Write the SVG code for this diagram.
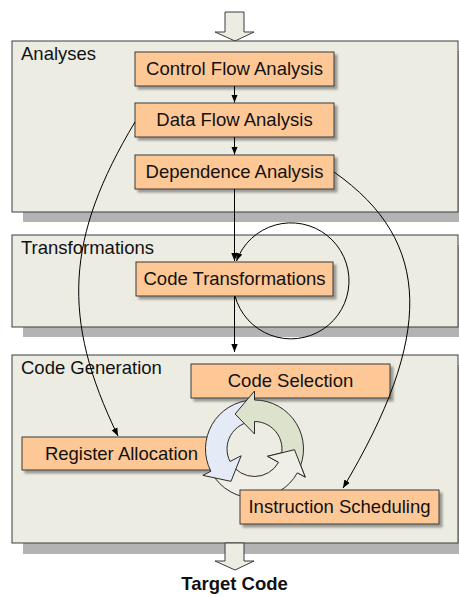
<svg xmlns="http://www.w3.org/2000/svg" width="459" height="597" viewBox="0 0 459 597">
<defs>
<style>
.panel{fill:#ececE2;stroke:#3c3c3c;stroke-width:1}
.pshadow{fill:#b3b3b3}
.box{fill:#fec896;stroke:#3a3a3a;stroke-width:1;filter:url(#sh)}
.lbl{font-family:"Liberation Sans",Arial,sans-serif;font-size:18.5px;fill:#111}
.ctr{text-anchor:middle}
.conn{fill:none;stroke:#000;stroke-width:1}
.block{fill:#ececE2;stroke:#3c3c3c;stroke-width:1}
.cyc{stroke:#2a2a2a;stroke-width:1}
</style>
<filter id="sh" x="-10%" y="-20%" width="130%" height="160%">
<feDropShadow dx="3" dy="3" stdDeviation="1.2" flood-color="#000" flood-opacity="0.35"/>
</filter>
<marker id="ah" viewBox="0 0 10 10" refX="10" refY="5" markerWidth="8" markerHeight="8" markerUnits="userSpaceOnUse" orient="auto">
<path d="M0,1 L10,5 L0,9 z" fill="#000"/>
</marker>
</defs>

<rect width="459" height="597" fill="#fff"/>

<!-- input block arrow -->
<g id="input-arrow">
<path class="block" d="M225,12 L244,12 L244,32 L254,32 L235,41 L215,32 L225,32 Z"/>
</g>

<!-- panels -->
<g id="panel-analyses">
<rect class="pshadow" x="23" y="51" width="446" height="171"/>
<rect class="panel" x="12" y="41" width="446" height="171"/>
<text class="lbl" x="21" y="59.5">Analyses</text>
</g>
<g id="panel-transformations">
<rect class="pshadow" x="23" y="245" width="446" height="92"/>
<rect class="panel" x="12" y="235" width="446" height="92"/>
<text class="lbl" x="21" y="254">Transformations</text>
</g>
<g id="panel-codegen">
<rect class="pshadow" x="23" y="365" width="446" height="189"/>
<rect class="panel" x="12" y="355" width="446" height="188"/>
<text class="lbl" x="21" y="373.5">Code Generation</text>
</g>

<!-- output block arrow -->
<g id="output-arrow">
<path class="block" d="M225,543 L244,543 L244,561 L254,561 L235,570 L215,561 L225,561 Z"/>
<text class="lbl ctr" x="234.5" y="590" font-weight="bold">Target Code</text>
</g>

<!-- nodes -->
<g id="node-cfa">
<rect class="box" x="135" y="52" width="199" height="34"/>
<text class="lbl ctr" x="234.5" y="75">Control Flow Analysis</text>
</g>
<g id="node-dfa">
<rect class="box" x="135" y="103" width="199" height="34"/>
<text class="lbl ctr" x="234.5" y="126">Data Flow Analysis</text>
</g>
<g id="node-da">
<rect class="box" x="135" y="155" width="199" height="34"/>
<text class="lbl ctr" x="234.5" y="178">Dependence Analysis</text>
</g>
<g id="node-ct">
<rect class="box" x="136" y="262" width="197" height="34"/>
<text class="lbl ctr" x="234.5" y="285">Code Transformations</text>
</g>
<g id="node-cs">
<rect class="box" x="191" y="364" width="199" height="34"/>
<text class="lbl ctr" x="290.5" y="387">Code Selection</text>
</g>
<g id="node-ra">
<rect class="box" x="22" y="437" width="199" height="33"/>
<text class="lbl ctr" x="121.5" y="459.5">Register Allocation</text>
</g>

<!-- cycle graphic -->
<g id="cycle">
<path class="cyc" fill="#efefe7" d="M212.06,473.5 A49,49 0 0,0 297.36,472.76 L305.23,477.12 L294.49,449.70 L267.62,456.27 L278.55,462.33 A27.5,27.5 0 0,1 230.68,462.75 Z"/>
<path class="cyc" fill="#e4ebf6" d="M251.94,400.07 A49,49 0 0,0 210.84,471.25 L202.82,475.33 L230.99,481.36 L241.13,455.81 L230,461.48 A27.5,27.5 0 0,1 253.06,421.54 Z"/>
<path class="cyc" fill="#dce2cc" d="M298.16,471.25 A49,49 0 0,0 254.5,400 L254.5,391 L235.11,414.02 L254.5,434 L254.5,421.5 A27.5,27.5 0 0,1 279,461.48 Z"/>
<path fill="#efefe7" d="M297.36,472.76 L305.23,477.12 L294.49,449.70 L267.62,456.27 L278.55,462.33 Z"/>
<path class="cyc" fill="none" d="M297.36,472.76 L305.23,477.12 L294.49,449.70 L267.62,456.27 L278.55,462.33"/>
</g>

<g id="node-is">
<rect class="box" x="240" y="490" width="199" height="34"/>
<text class="lbl ctr" x="339.5" y="513">Instruction Scheduling</text>
</g>

<!-- connectors -->
<g id="connectors">
<line class="conn" x1="234.5" y1="86" x2="234.5" y2="102.5" marker-end="url(#ah)"/>
<line class="conn" x1="234.5" y1="137" x2="234.5" y2="154.5" marker-end="url(#ah)"/>
<line class="conn" x1="234.5" y1="189" x2="234.5" y2="261" marker-end="url(#ah)"/>
<path class="conn" d="M235,296 A58,58 0 1,0 236.5,261" marker-end="url(#ah)"/>
<line class="conn" x1="234.5" y1="296" x2="234.5" y2="352" marker-end="url(#ah)"/>
<path class="conn" d="M135,122 C66,237 60.5,318 118,436" marker-end="url(#ah)"/>
<path class="conn" d="M334,172 C434,242 433,337 343,488" marker-end="url(#ah)"/>
</g>
</svg>
